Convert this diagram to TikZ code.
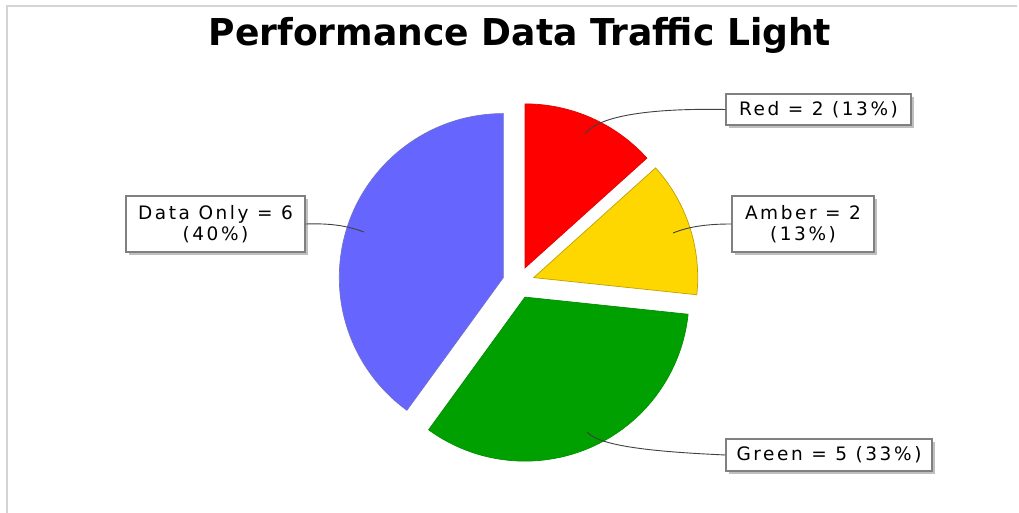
\documentclass[tikz,border=0pt]{standalone}
\usepackage{graphicx}
\usepackage{fontspec}
\setmainfont{DejaVu Sans}
\newfontfamily\lblfont[LetterSpace=14]{DejaVu Sans}
\newfontfamily\ttlfont{DejaVu Sans}
\usetikzlibrary{shadows}
\definecolor{sliceRed}{RGB}{255,0,0}
\definecolor{sliceAmber}{RGB}{255,215,0}
\definecolor{sliceGreen}{RGB}{0,160,0}
\definecolor{sliceBlue}{RGB}{102,102,255}
\definecolor{frameGray}{RGB}{212,212,212}
\definecolor{boxGray}{RGB}{128,128,128}
\begin{document}
\begin{tikzpicture}[x=1pt,y=1pt,
  lbl/.style={draw=boxGray, line width=1.3pt, fill=white, inner sep=0pt,
    font=\lblfont\fontsize{18.5}{21}\selectfont, align=center,
    drop shadow={shadow xshift=3pt, shadow yshift=-3pt, fill=black, opacity=0.25}},
  conn/.style={draw=black!75, line width=0.9pt},
  sl/.style={line width=0.7pt}]
\useasboundingbox (0,0) rectangle (1019,513);
\fill[white] (0,0) rectangle (1019,513);
\draw[frameGray, line width=2.5pt] (7,0) -- (7,507) -- (1017,507);

% title
\node[anchor=base, font=\ttlfont\bfseries\fontsize{37}{40}\selectfont] (title) at (520,467)
  {\scalebox{0.975}[1]{Performance Data Traffic Light}};

% slices
\filldraw[sl, fill=sliceRed, draw=sliceRed!90!black] (525.0,245.1) -- ++(42:164)
  arc[start angle=42, end angle=90, radius=164] -- cycle;
\filldraw[sl, fill=sliceAmber, draw=sliceAmber!75!black] (533.7,235.4) -- ++(-6:164)
  arc[start angle=-6, end angle=42, radius=164] -- cycle;
\filldraw[sl, fill=sliceGreen, draw=sliceGreen!90!black] (525.0,215.9) -- ++(-126:164)
  arc[start angle=-126, end angle=-6, radius=164] -- cycle;
\filldraw[sl, fill=sliceBlue, draw=sliceBlue!60!gray] (503.3,235.4) -- ++(90:164)
  arc[start angle=90, end angle=234, radius=164] -- cycle;

% label anchor points
\coordinate (redpt) at (585,379);
\coordinate (amberpt) at (673,280);
\coordinate (datapt) at (364,281);
\coordinate (greenpt) at (587,81);

% label boxes
\node[lbl, minimum width=185pt, minimum height=31pt] (redbox) at (818.5,403.5) {Red = 2 (13\%)};
\node[lbl, minimum width=142pt, minimum height=56pt] (amberbox) at (803,289) {Amber = 2\\(13\%)};
\node[lbl, minimum width=179pt, minimum height=56pt] (databox) at (215.5,289) {Data Only = 6\\(40\%)};
\node[lbl, minimum width=206pt, minimum height=32pt] (greenbox) at (829,58) {Green = 5 (33\%)};

% connectors
\draw[conn] (redbox.west) .. controls (645,405) and (597,396) .. (redpt);
\draw[conn] (amberbox.west) .. controls (705,289) and (688,286) .. (amberpt);
\draw[conn] (databox.east) .. controls (335,290) and (350,286) .. (datapt);
\draw[conn] (greenbox.west) .. controls (660,61) and (600,66) .. (greenpt);
\end{tikzpicture}
\end{document}
